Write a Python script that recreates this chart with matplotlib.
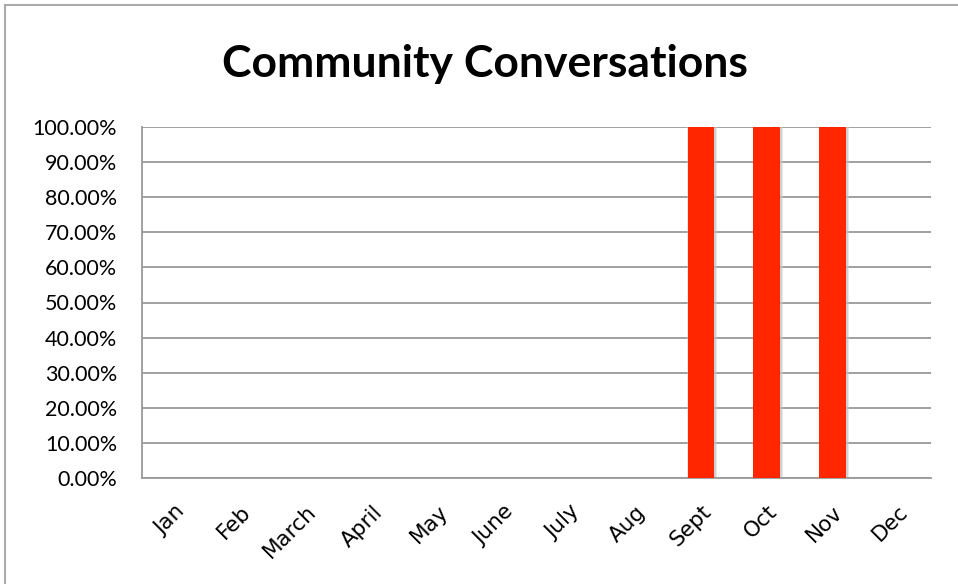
import matplotlib
matplotlib.use("Agg")
import matplotlib.pyplot as plt
from matplotlib.lines import Line2D

months = ["Jan", "Feb", "March", "April", "May", "June", "July", "Aug", "Sept", "Oct", "Nov", "Dec"]
values = [0, 0, 0, 0, 0, 0, 0, 0, 1.0, 1.0, 1.0, 0]
yticks = [0, 0.1, 0.2, 0.3, 0.4, 0.5, 0.6, 0.7, 0.8, 0.9, 1.0]
ytick_labels = ["0.00%", "10.00%", "20.00%", "30.00%", "40.00%", "50.00%",
                "60.00%", "70.00%", "80.00%", "90.00%", "100.00%"]
title = "Community Conversations"

plt.rcParams['font.family'] = ['Lato', 'DejaVu Sans']

W, H = 958, 584
fig = plt.figure(figsize=(W / 100, H / 100), dpi=100)
ax = fig.add_axes([142 / W, 1 - 478 / H, (931 - 142) / W, (478 - 127) / H])

x = list(range(len(months)))
# soft shadow
ax.bar([i + 0.02 for i in x], values, width=0.46, color="#cccccc", alpha=0.45, zorder=2)
ax.bar([i + 0.02 for i in x], values, width=0.43, color="#bbbbbb", alpha=0.5, zorder=2)
ax.bar(x, values, width=0.4, color="#FF2600", zorder=3)

ax.set_xlim(-0.5, len(months) - 0.5)
ax.set_ylim(0, 1.0)
ax.set_yticks(yticks)
ax.set_yticklabels(ytick_labels, fontsize=15.5)
ax.set_xticks(x)
ax.set_xticklabels(months, fontsize=15.5, rotation=45, ha="right", va="top",
                   rotation_mode="anchor", family=["DejaVu Sans"])
ax.tick_params(axis="both", length=0)
ax.tick_params(axis="y", pad=18)
ax.tick_params(axis="x", pad=17)
ax.yaxis.grid(True, color="#999999", linewidth=1.3, zorder=0)
ax.set_axisbelow(True)
for s in ["top", "right"]:
    ax.spines[s].set_visible(False)
for s in ["left", "bottom"]:
    ax.spines[s].set_color("#999999")
    ax.spines[s].set_linewidth(1.3)

fig.text(485 / W, 1 - 64 / H, title, fontsize=32, fontweight="bold",
         ha="center", va="center")

# outer border
fig.add_artist(Line2D([5 / W, 1], [1 - 5 / H, 1 - 5 / H], color="#aaaaaa", lw=1.5))
fig.add_artist(Line2D([5 / W, 5 / W], [0, 1 - 5 / H], color="#aaaaaa", lw=1.5))

fig.savefig("out.png", dpi=100)
